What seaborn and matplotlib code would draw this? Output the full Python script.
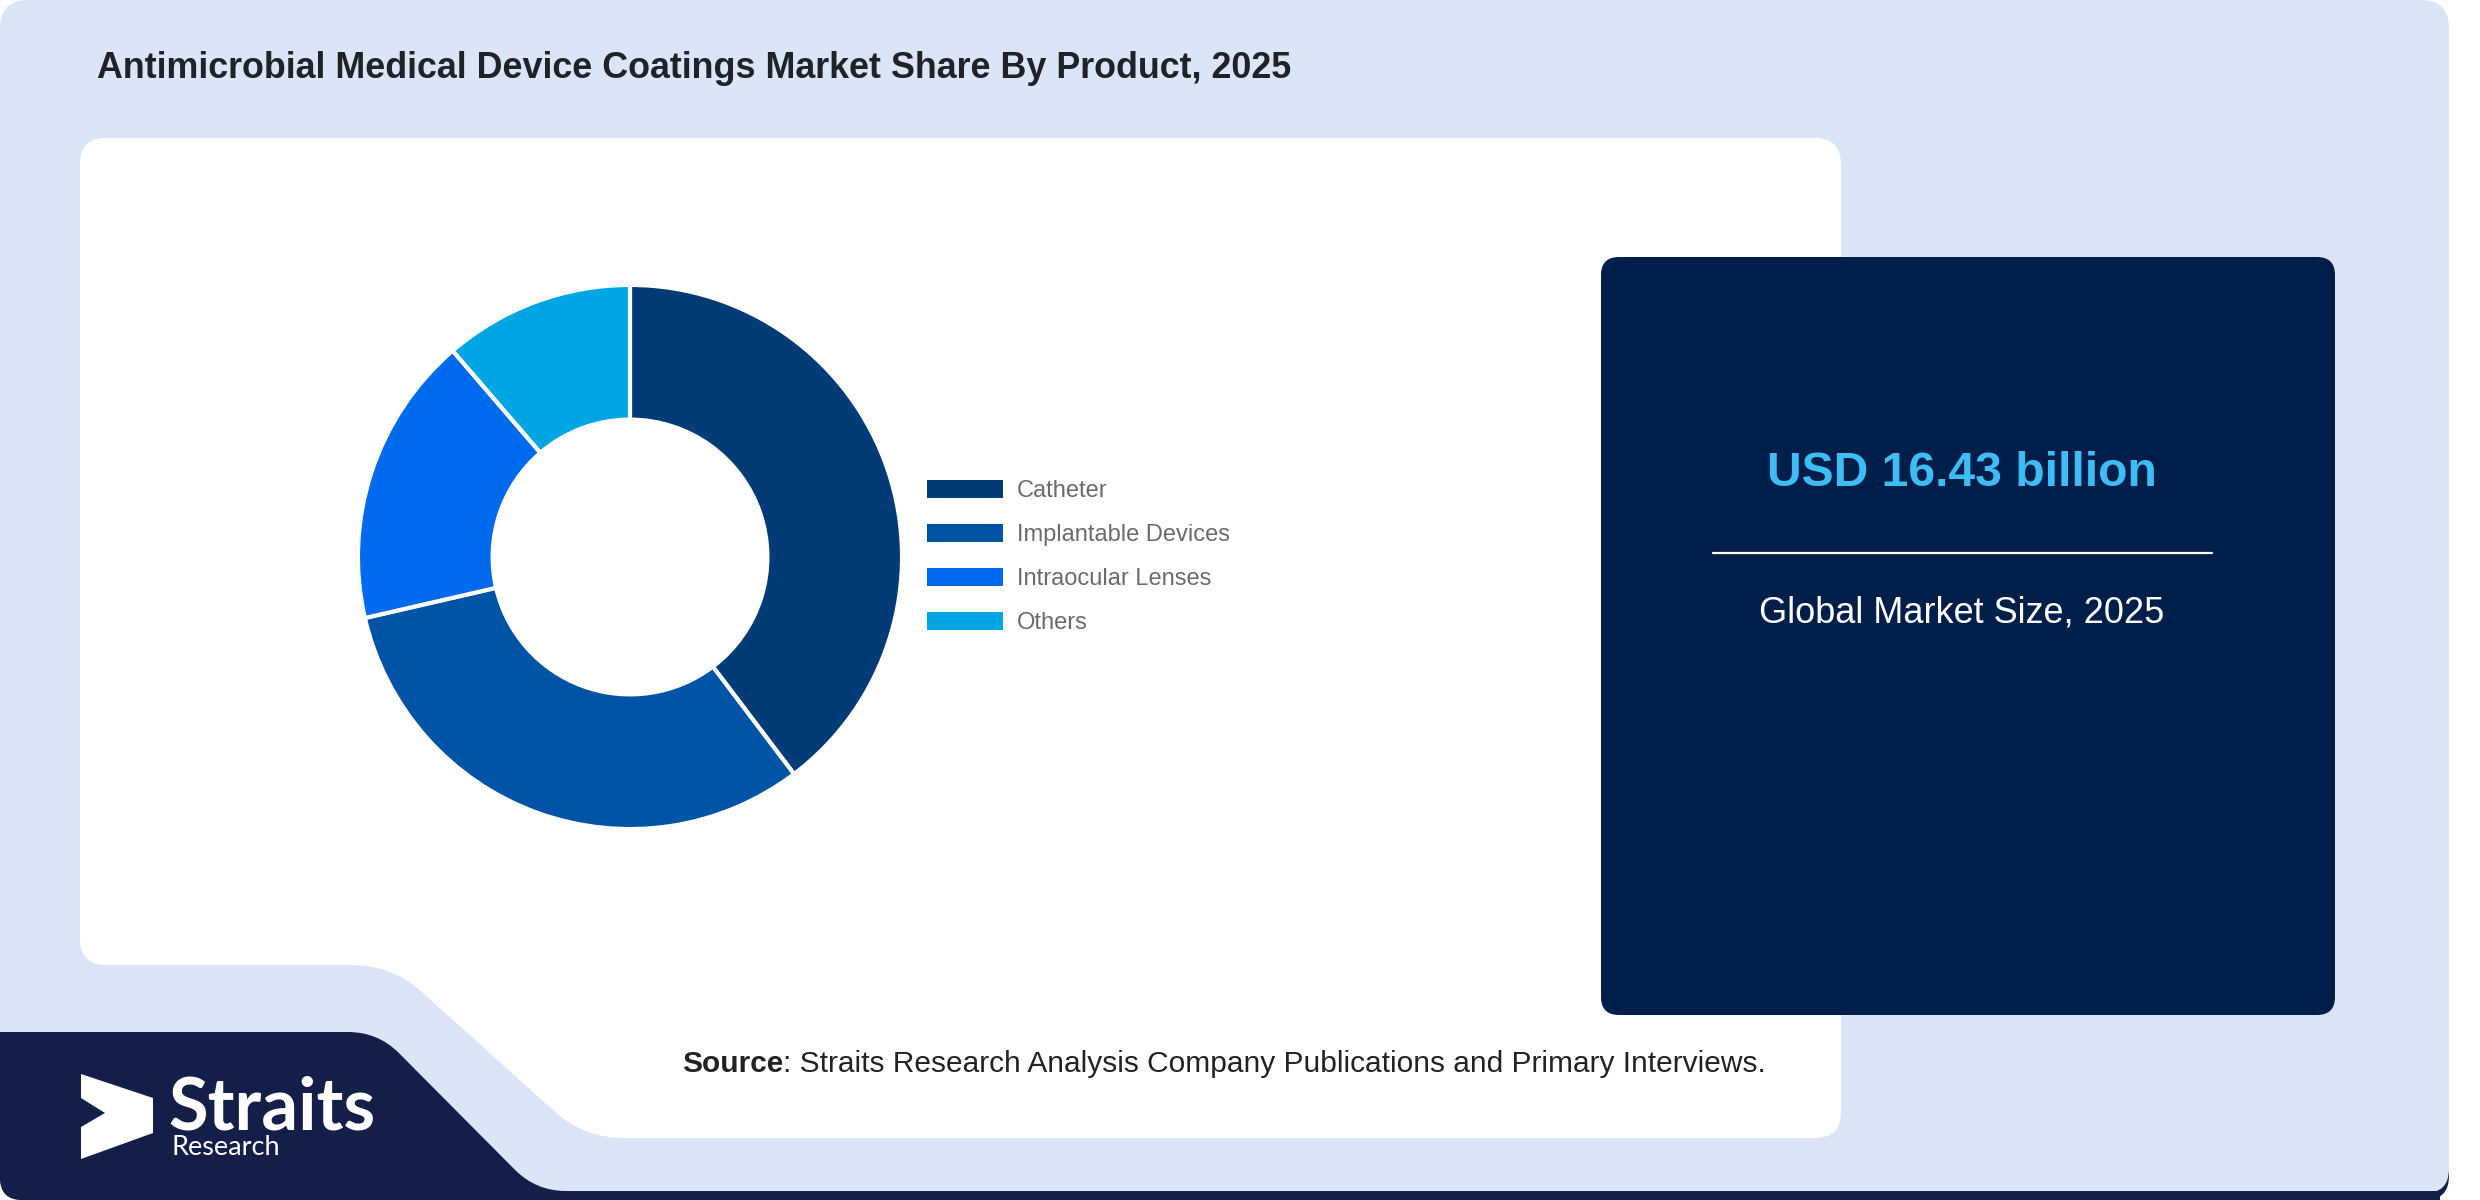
import numpy as np
import matplotlib
matplotlib.use('Agg')
import matplotlib.pyplot as plt
from matplotlib.path import Path
from matplotlib.patches import PathPatch, FancyBboxPatch
import seaborn as sns

# --- chart data ---
products = ['Catheter', 'Implantable Devices', 'Intraocular Lenses', 'Others']
shares = [39.7, 31.7, 17.3, 11.3]
product_colors = ['#033b77', '#0053a5', '#006aee', '#00a6e3']

title = 'Antimicrobial Medical Device Coatings Market Share By Product, 2025'
market_size = 'USD 16.43 billion'
market_label = 'Global Market Size, 2025'
source_rest = ': Straits Research Analysis Company Publications and Primary Interviews.'

sns.set_theme(style='white')
plt.rcParams['font.family'] = ['Liberation Sans', 'DejaVu Sans']

W, H = 2480, 1200
fig = plt.figure(figsize=(W / 100, H / 100), dpi=100, facecolor='white')

# background axes in pixel coordinates (y down)
bg = fig.add_axes([0, 0, 1, 1])
bg.set_xlim(0, W)
bg.set_ylim(H, 0)
bg.axis('off')


def rounded_poly(pts, radii):
    # polygon with rounded corners, one radius per vertex
    verts, codes = [], []
    n = len(pts)
    for i in range(n):
        p0 = np.array(pts[i - 1], float)
        p1 = np.array(pts[i], float)
        p2 = np.array(pts[(i + 1) % n], float)
        l1 = np.linalg.norm(p0 - p1)
        l2 = np.linalg.norm(p2 - p1)
        r = min(radii[i], l1 / 2, l2 / 2)
        a = p1 + (p0 - p1) / l1 * r
        b = p1 + (p2 - p1) / l2 * r
        verts.append(a)
        codes.append(Path.MOVETO if i == 0 else Path.LINETO)
        verts += [p1, b]
        codes += [Path.CURVE3, Path.CURVE3]
    verts.append(verts[0])
    codes.append(Path.CLOSEPOLY)
    return Path(verts, codes)


light_blue = '#dae6f8'
navy = '#131f48'
panel_navy = '#001e4a'

# navy shadow + light blue card
bg.add_patch(PathPatch(rounded_poly([(0, 10), (2449, 10), (2449, 1200), (0, 1200)],
                                    [28, 28, 24, 24]), fc=navy, ec='none'))
bg.add_patch(PathPatch(rounded_poly([(0, 0), (2449, 0), (2449, 1193), (0, 1193)],
                                    [28, 28, 24, 24]), fc=light_blue, ec='none'))

# white content panel with the diagonal cut
bg.add_patch(PathPatch(rounded_poly([(80, 138), (1841, 138), (1841, 1138), (584, 1138),
                                     (392, 965), (80, 965)],
                                    [26, 26, 26, 40, 40, 26]), fc='white', ec='none'))

# navy logo block
bg.add_patch(PathPatch(rounded_poly([(0, 1032), (378, 1032), (536, 1191), (2440, 1191),
                                     (2440, 1200), (0, 1200)],
                                    [0, 30, 30, 0, 0, 22]), fc=navy, ec='none'))

# dark stat panel
bg.add_patch(FancyBboxPatch((1601, 257), 734, 758, boxstyle='round,pad=0,rounding_size=18',
                            fc=panel_navy, ec='none'))

# title
bg.text(97, 78, title, fontsize=25.8, fontweight='bold', color='#1f2329',
        ha='left', va='baseline')

# stat panel text
bg.text(1962, 474, market_size, fontsize=34.6, fontweight='bold', color='#3ebdf4',
        ha='center', va='center')
bg.plot([1713, 2212], [553, 553], color='white', lw=1.6)
bg.text(1962, 613, market_label, fontsize=26, color='white', ha='center', va='center')

# source line
src = bg.text(682, 1072, 'Source', fontsize=21.5, fontweight='bold', color='#222222',
              ha='left', va='baseline')
bg.annotate(source_rest, xy=(1, 0), xycoords=src, fontsize=21.5, color='#222222',
            ha='left', va='bottom')

# logo
bg.add_patch(PathPatch(Path([(81, 1074), (153, 1098), (153, 1133), (81, 1159), (81, 1127),
                             (105, 1113), (81, 1098), (81, 1074)]), fc='white', ec='none'))
bg.text(168, 1130, 'Straits', fontsize=52, fontweight='bold', color='white',
        family=['Lato', 'DejaVu Sans'], ha='left', va='baseline')
bg.text(171, 1155, 'Research', fontsize=19.5, color='white',
        family=['Lato', 'DejaVu Sans'], ha='left', va='baseline')

# donut
cx, cy, R = 630, 557, 277.5
ax = fig.add_axes([(cx - R) / W, 1 - (cy + R) / H, 2 * R / W, 2 * R / H])
ax.patch.set_visible(False)
palette = sns.color_palette(product_colors)
wedges, _ = ax.pie(shares, colors=palette, startangle=90, counterclock=False, radius=1,
                   wedgeprops=dict(width=0.495, edgecolor='white', linewidth=3))
ax.set_xlim(-1.02, 1.02)
ax.set_ylim(-1.02, 1.02)
ax.axis('off')

leg = fig.legend(wedges, products, loc='center left', bbox_to_anchor=(927 / W, 1 - 557 / H),
                 frameon=False, fontsize=17, handlelength=3.22, handleheight=0.8,
                 handletextpad=0.58, labelspacing=0.93, borderpad=0, borderaxespad=0)
for t in leg.get_texts():
    t.set_color('#6b6b6b')
for h in leg.legend_handles:
    h.set_linewidth(0)

fig.savefig('out.png', dpi=100)
